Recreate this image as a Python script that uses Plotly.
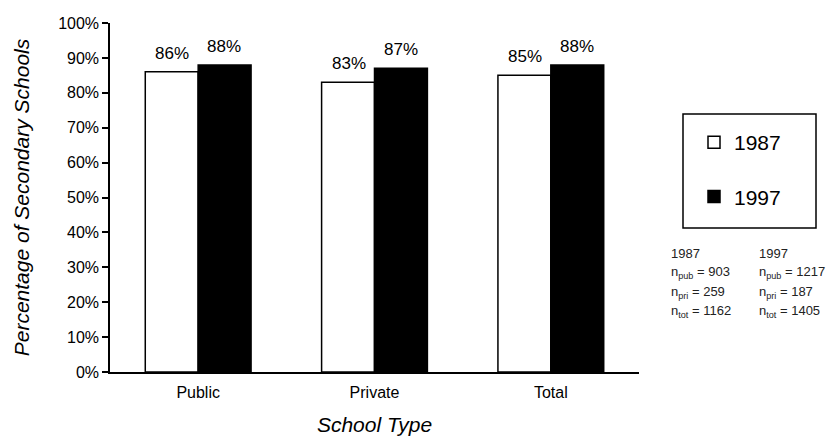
import plotly.graph_objects as go

categories = ["Public", "Private", "Total"]
pct_1987 = [86, 83, 85]
pct_1997 = [88, 87, 88]
y_ticks = list(range(0, 101, 10))
n_header = ["1987", "1997"]
n_1987 = [("pub", 903), ("pri", 259), ("tot", 1162)]
n_1997 = [("pub", 1217), ("pri", 187), ("tot", 1405)]

FONT = "Liberation Sans, Arial, sans-serif"

# page offset (default body margin) and figure geometry
OFF = 8
W, H = 837, 436
# plot area in screen pixels: x 110..639, y 23..372
L = 110 - OFF
T = 23 - OFF
R = W - (639 - OFF)
B = H - (372 - OFF)
PW, PH = W - L - R, H - T - B


def px_x(px):
    return (px - OFF - L) / PW


def px_y(py):
    return (H - B - (py - OFF)) / PH


fig = go.Figure()
fig.add_trace(go.Bar(
    x=categories, y=pct_1987, name="1987", legendgroup="a",
    marker=dict(color="white", line=dict(color="black", width=1.5)),
))
fig.add_trace(go.Bar(
    x=categories, y=pct_1997, name="1997", legendgroup="b",
    marker=dict(color="black", line=dict(color="black", width=1.5)),
))

# value labels above bars
for vals, shift in ((pct_1987, -26), (pct_1997, 26)):
    for c, v in zip(categories, vals):
        fig.add_annotation(x=c, y=v, text=f"{v}%", showarrow=False,
                           xshift=shift, yshift=7, yanchor="bottom",
                           font=dict(size=17, color="black", family=FONT))

# sample-size notes
cols = [(669, n_1987), (757, n_1997)]
for (xpx, rows), head in zip(cols, n_header):
    lines = [head] + [f"n<sub>{k}</sub> = {v}" for k, v in rows]
    for i, line in enumerate(lines):
        fig.add_annotation(text=line, xref="paper", yref="paper",
                           x=px_x(xpx), y=px_y(253 + i * 19.5),
                           xanchor="left", yanchor="middle", showarrow=False,
                           align="left",
                           font=dict(size=13, color="#222", family=FONT))

# legend frame
fig.add_shape(type="rect", xref="paper", yref="paper",
              x0=px_x(683), x1=px_x(816), y0=px_y(228), y1=px_y(114),
              line=dict(color="black", width=1.5), fillcolor="rgba(0,0,0,0)")

fig.update_layout(
    width=W, height=H,
    margin=dict(l=L, r=R, t=T, b=B),
    paper_bgcolor="white", plot_bgcolor="white",
    font=dict(family=FONT, color="black", size=16),
    barmode="group", bargap=0.4, bargroupgap=0,
    showlegend=True,
    legend=dict(x=px_x(694), y=px_y(122), xanchor="left", yanchor="top",
                bgcolor="rgba(0,0,0,0)", borderwidth=0,
                font=dict(size=21, color="black"),
                tracegroupgap=24, itemwidth=30),
    xaxis=dict(showline=True, linecolor="black", linewidth=1.5, ticks="",
               automargin=False, ticklabelstandoff=5,
               title=dict(text="<i>School Type</i>", font=dict(size=21), standoff=17),
               tickfont=dict(size=16), range=[-0.5, 2.5]),
    yaxis=dict(range=[0, 100], tickvals=y_ticks,
               ticktext=[f"{v}%" for v in y_ticks],
               automargin=False,
               showline=True, linecolor="black", linewidth=1.5,
               ticks="outside", ticklen=6, tickcolor="black", tickwidth=1.5,
               showgrid=False, zeroline=False,
               title=dict(text="<i>Percentage of Secondary Schools</i>", font=dict(size=21), standoff=23),
               tickfont=dict(size=16)),
)

fig.write_html("out.html")
